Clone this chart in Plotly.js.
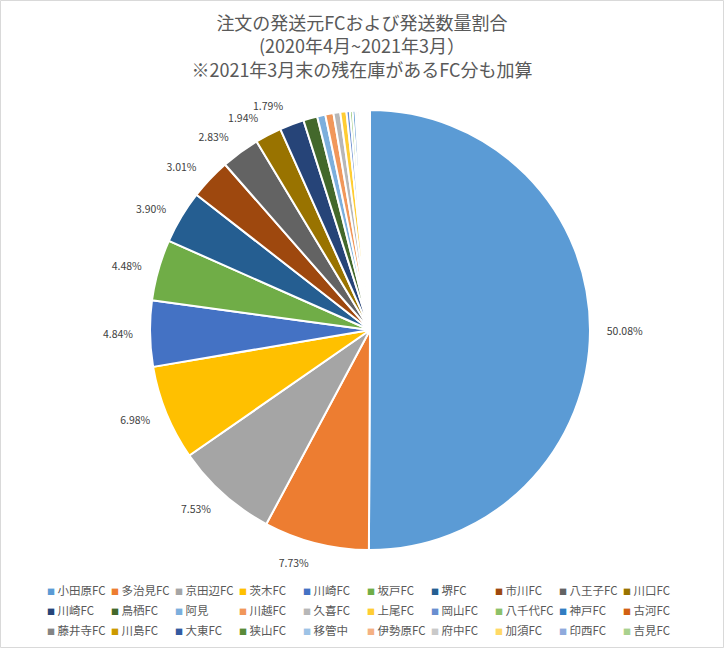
<!DOCTYPE html>
<html>
<head>
<meta charset="utf-8">
<script src="https://cdn.plot.ly/plotly-3.0.1.min.js"></script>
<style>html,body{margin:0;padding:0;background:#fff;}#chart{width:724px;height:648px;}</style>
</head>
<body>
<div id="chart"></div>
<script>
const labels = ["小田原FC","多治見FC","京田辺FC","茨木FC","川崎FC","坂戸FC","堺FC","市川FC","八王子FC","川口FC",
  "川崎FC","鳥栖FC","阿見","川越FC","久喜FC","上尾FC","岡山FC","八千代FC","神戸FC","古河FC",
  "藤井寺FC","川島FC","大東FC","狭山FC","移管中","伊勢原FC","府中FC","加須FC","印西FC","吉見FC"];
const shares = [50.08,7.73,7.53,6.98,4.84,4.48,3.90,3.01,2.83,1.94,
  1.79,1.03,0.60,0.60,0.50,0.45,0.25,0.20,0.20,0.15,
  0.15,0.12,0.12,0.10,0.10,0.08,0.08,0.06,0.05,0.05];
const colors = ["#5B9BD5","#ED7D31","#A5A5A5","#FFC000","#4472C4","#70AD47","#255E91","#9E480E","#636363","#997300",
  "#264478","#43682B","#7CAFDD","#F1975A","#B7B7B7","#FFCD33","#698ED0","#8CC168","#327DC2","#D26012",
  "#848484","#CC9A00","#335AA1","#5A8A39","#9DC3E6","#F4B183","#C9C9C9","#FFD966","#8FAADC","#A9D18E"];
const labelledCount = 11;
const titleLines = ["注文の発送元FCおよび発送数量割合","(2020年4月~2021年3月）","※2021年3月末の残在庫があるFC分も加算"];

// unique slice ids (two entries share the name 川崎FC)
const sliceIds = labels.map((l, i) => "s" + i);

const W = 724, H = 648;
const cx = 370, cy = 330, R = 220, RL = 233;
const dom = r => ({x: [(cx - r)/W, (cx + r)/W], y: [(H - cy - r)/H, (H - cy + r)/H]});

const pieTrace = {
  type: "pie",
  labels: sliceIds,
  text: labels,
  values: shares,
  sort: false,
  direction: "clockwise",
  rotation: 0,
  marker: {colors: colors, line: {color: "#ffffff", width: 2}},
  textinfo: "none",
  hovertemplate: "%{text}: %{percent:.2%}<extra></extra>",
  showlegend: false,
  domain: dom(R)
};

// two label layers (alternating slices) so neighbouring outside labels are not pushed apart
function labelLayer(parity) {
  return {
    type: "pie",
    labels: sliceIds,
    values: shares,
    sort: false,
    direction: "clockwise",
    rotation: 0,
    showlegend: false,
    marker: {colors: shares.map(() => "rgba(0,0,0,0)"), line: {width: 0}},
    texttemplate: shares.map((v, i) => (i < labelledCount && i % 2 === parity) ? "%{percent:.2%}" : ""),
    textposition: shares.map((v, i) => (i < labelledCount && i % 2 === parity) ? "outside" : "none"),
    textfont: {size: 10.5, color: "#404040"},
    hoverinfo: "skip",
    domain: dom(RL)
  };
}

// legend grid (10 entries per row), built from the label and colour arrays
const perRow = 10, legX0 = 45, legDX = 64, legY0 = 590, legDY = 20;
const legendAnnotations = labels.map((l, i) => ({
  xref: "paper", yref: "paper",
  x: (legX0 + legDX * (i % perRow)) / W,
  y: 1 - (legY0 + legDY * Math.floor(i / perRow)) / H,
  xanchor: "left", yanchor: "middle", showarrow: false,
  text: `<span style="color:${colors[i]};font-size:8px">■</span> ${l}`,
  font: {size: 11.5, color: "#595959"}
}));

const layout = {
  width: W, height: H,
  margin: {l: 0, r: 0, t: 0, b: 0, autoexpand: false},
  paper_bgcolor: "#ffffff",
  font: {family: "Noto Sans CJK JP, sans-serif", color: "#595959"},
  title: {text: titleLines.join("<br>"), font: {size: 18, color: "#595959"}, x: 0.5, xref: "container", xanchor: "center", y: 1 - 30/H, yref: "container", yanchor: "top"},
  showlegend: false,
  annotations: legendAnnotations,
  shapes: [{type: "rect", xref: "paper", yref: "paper", x0: 0.5/W, x1: 1 - 0.5/W, y0: 0.5/H, y1: 1 - 0.5/H,
    line: {color: "#D9D9D9", width: 1}, fillcolor: "rgba(0,0,0,0)"}]
};

Plotly.newPlot("chart", [pieTrace, labelLayer(0), labelLayer(1)], layout, {displayModeBar: false, staticPlot: true});
</script>
</body>
</html>
